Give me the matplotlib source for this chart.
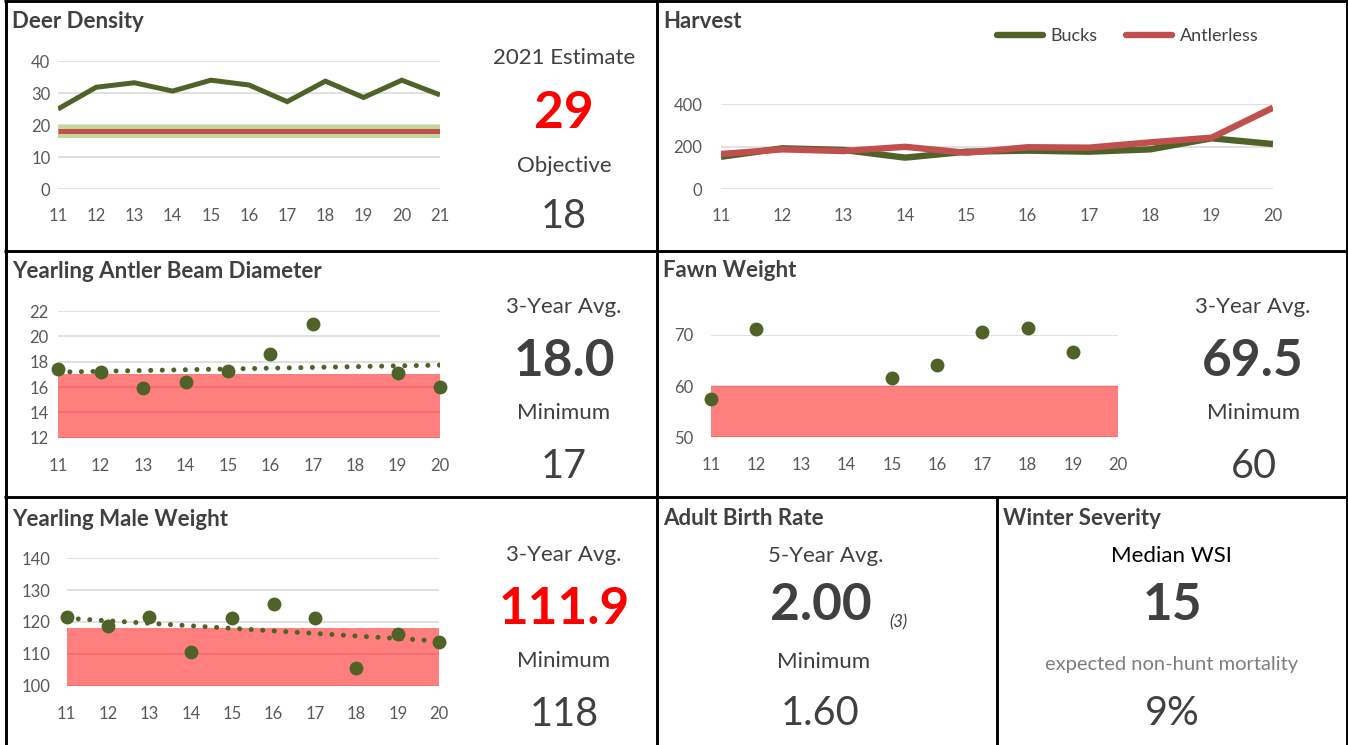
import numpy as np
import matplotlib
matplotlib.use("Agg")
import matplotlib.pyplot as plt

plt.rcParams['font.family'] = ['Lato', 'DejaVu Sans']

W, H = 1348, 745
nan = np.nan

# ---------------- data ----------------
density_years = [11, 12, 13, 14, 15, 16, 17, 18, 19, 20, 21]
density_values = [25.0, 31.8, 33.2, 30.6, 34.0, 32.5, 27.3, 33.7, 28.6, 34.0, 29.4]
density_objective = 18
density_band_low = 16
density_band_high = 20
density_ticks = [0, 10, 20, 30, 40]

harvest_years = [11, 12, 13, 14, 15, 16, 17, 18, 19, 20]
harvest_bucks = [153, 193, 185, 149, 177, 182, 177, 188, 240, 213]
harvest_antlerless = [166, 188, 180, 200, 172, 198, 196, 221, 243, 384]
harvest_ticks = [0, 200, 400]
harvest_labels = ["Bucks", "Antlerless"]

beam_years = [11, 12, 13, 14, 15, 16, 17, 18, 19, 20]
beam_values = [17.4, 17.2, 15.95, 16.4, 17.3, 18.6, 21.0, nan, 17.1, 16.0]
beam_minimum = 17
beam_floor = 12
beam_ticks = [12, 14, 16, 18, 20, 22]

fawn_years = [11, 12, 13, 14, 15, 16, 17, 18, 19, 20]
fawn_values = [57.4, 71.2, nan, nan, 61.6, 64.1, 70.5, 71.3, 66.7, nan]
fawn_minimum = 60
fawn_floor = 50
fawn_ticks = [50, 60, 70]

male_years = [11, 12, 13, 14, 15, 16, 17, 18, 19, 20]
male_values = [121.5, 118.8, 121.5, 110.7, 121.2, 125.5, 121.2, 105.7, 116.1, 113.8]
male_minimum = 118
male_floor = 100
male_ticks = [100, 110, 120, 130, 140]

density_estimate = "29"
density_objective_txt = "18"
beam_avg, beam_min_txt = "18.0", "17"
fawn_avg, fawn_min_txt = "69.5", "60"
male_avg, male_min_txt = "111.9", "118"
birth_avg, birth_n, birth_min = "2.00", "(3)", "1.60"
wsi_median, wsi_mortality = "15", "9%"

# ---------------- style ----------------
GREEN = '#4F6228'
RED = '#C0504D'
BAND_GREEN = '#C4D79B'
TXT = '#404040'
TICK = '#595959'
GRID = '#D9D9D9'

fig = plt.figure(figsize=(W / 100, H / 100), dpi=100)
bg = fig.add_axes([0, 0, 1, 1], zorder=0)
bg.set_xlim(0, W)
bg.set_ylim(H, 0)
bg.axis('off')


def ax_px(left, right, top, bottom, tsize):
    ax = fig.add_axes([left / W, 1 - bottom / H, (right - left) / W, (bottom - top) / H], zorder=2)
    ax.patch.set_alpha(0)
    for s in ax.spines.values():
        s.set_visible(False)
    ax.tick_params(length=0, labelsize=tsize, labelcolor=TICK)
    ax.yaxis.grid(True, color=GRID, lw=1.1, zorder=0)
    ax.set_axisbelow(True)
    return ax


# ---------------- borders ----------------
blw = 2.1
for (x0, x1, y0, y1) in [(4, W, 1.3, 1.3), (5.5, 5.5, 0, H), (W - 1.5, W - 1.5, 0, H),
                         (4, W, 251, 251), (4, W, 497, 497),
                         (657, 657, 0, H), (997, 997, 497, H)]:
    bg.plot([x0, x1], [y0, y1], color='black', lw=blw, solid_capstyle='butt')

# ---------------- titles ----------------
for x, y, t in [(12, 28, "Deer Density"), (663, 28, "Harvest"),
                (12, 278, "Yearling Antler Beam Diameter"), (663, 277, "Fawn Weight"),
                (12, 526, "Yearling Male Weight"), (663, 525, "Adult Birth Rate"),
                (1003, 525, "Winter Severity")]:
    bg.text(x, y, t, fontsize=16, fontweight='bold', color=TXT, ha='left', va='baseline')


def stat(x, y, s, size, color=TXT, weight='normal', style='normal'):
    bg.text(x, y, s, fontsize=size, color=color, fontweight=weight, fontstyle=style,
            ha='center', va='baseline')


LBL = 16
BIG = 37
REG = 28.5

# ---------------- Deer Density ----------------
ax = ax_px(58, 440, 61, 189, 12)
ax.fill_between(density_years, density_band_low, density_band_high, color=BAND_GREEN, lw=0, zorder=1)
ax.plot(density_years, [density_objective] * len(density_years), color=RED, lw=3.6, zorder=2,
        solid_capstyle='butt')
ax.plot(density_years, density_values, color=GREEN, lw=3.6, zorder=3, solid_joinstyle='miter',
        solid_capstyle='butt')
ax.set_xlim(11, 21)
ax.set_ylim(0, 40)
ax.set_yticks(density_ticks)
ax.set_xticks(density_years)
ax.tick_params(axis='y', pad=5.5)
ax.tick_params(axis='x', pad=13.5)

stat(564, 64, "2021 Estimate", LBL)
stat(564, 128, density_estimate, BIG, color='#FF0000', weight='bold')
stat(564, 172, "Objective", LBL)
stat(564, 228, density_objective_txt, REG)

# ---------------- Harvest ----------------
ax = ax_px(721, 1273, 104.3, 189.3, 12)
ax.plot(harvest_years, harvest_bucks, color=GREEN, lw=4.6, zorder=3, label=harvest_labels[0],
        solid_capstyle='butt')
ax.plot(harvest_years, harvest_antlerless, color=RED, lw=4.6, zorder=4, label=harvest_labels[1],
        solid_capstyle='butt')
ax.set_xlim(11, 20)
ax.set_ylim(0, 400)
ax.set_yticks(harvest_ticks)
ax.set_xticks(harvest_years)
ax.tick_params(axis='y', pad=13.5)
ax.tick_params(axis='x', pad=13.5)
leg = ax.legend(loc='center left', bbox_to_anchor=(997 / W, 1 - 36 / H), bbox_transform=fig.transFigure,
                ncol=2, frameon=False, fontsize=13, handlelength=2.55, handletextpad=0.4,
                columnspacing=1.6, borderpad=0, borderaxespad=0)
for t in leg.get_texts():
    t.set_color(TXT)
for l in leg.get_lines():
    l.set_solid_capstyle('round')


def scatter_panel(ax, years, values, floor, minimum, ticks, trend=False):
    years = np.asarray(years, dtype=float)
    values = np.asarray(values, dtype=float)
    ax.fill_between([years[0], years[-1]], floor, minimum, color='red', alpha=0.5, lw=0, zorder=1)
    ok = ~np.isnan(values)
    if trend:
        k, b = np.polyfit(years[ok], values[ok], 1)
        xs = np.array([years[0], years[-1]])
        ax.plot(xs, k * xs + b, color=GREEN, lw=3.6, linestyle=(0, (0.01, 2.3)),
                dash_capstyle='round', zorder=3)
    ax.plot(years[ok], values[ok], 'o', color=GREEN, ms=10, mec='none', zorder=5, clip_on=False)
    ax.set_xlim(years[0], years[-1])
    ax.set_ylim(ticks[0], ticks[-1])
    ax.set_yticks(ticks)
    ax.set_xticks(years)
    ax.set_xticklabels([str(int(y)) for y in years])
    ax.tick_params(axis='x', pad=14.5)


# ---------------- Yearling Antler Beam Diameter ----------------
ax = ax_px(58.3, 440, 311, 437.7, 12)
scatter_panel(ax, beam_years, beam_values, beam_floor, beam_minimum, beam_ticks, trend=True)
ax.tick_params(axis='y', pad=7)
stat(564, 313, "3-Year Avg.", LBL)
stat(564, 376, beam_avg, BIG, weight='bold')
stat(564, 419, "Minimum", LBL)
stat(564, 478, beam_min_txt, REG)

# ---------------- Fawn Weight ----------------
ax = ax_px(711, 1118, 335, 437.3, 12)
scatter_panel(ax, fawn_years, fawn_values, fawn_floor, fawn_minimum, fawn_ticks)
ax.tick_params(axis='y', pad=13)
stat(1253, 313, "3-Year Avg.", LBL)
stat(1253, 376, fawn_avg, BIG, weight='bold')
stat(1254, 419, "Minimum", LBL)
stat(1254, 478, fawn_min_txt, REG)

# ---------------- Yearling Male Weight ----------------
ax = ax_px(66.7, 439.3, 558.3, 685.7, 12)
scatter_panel(ax, male_years, male_values, male_floor, male_minimum, male_ticks, trend=True)
ax.tick_params(axis='y', pad=12)
stat(564, 561, "3-Year Avg.", LBL)
stat(564, 624, male_avg, BIG, color='#FF0000', weight='bold')
stat(564, 667, "Minimum", LBL)
stat(564, 726, male_min_txt, REG)

# ---------------- Adult Birth Rate ----------------
stat(826, 562, "5-Year Avg.", LBL)
stat(821, 620, birth_avg, BIG, weight='bold')
bg.text(898, 627, birth_n, fontsize=12, fontstyle='italic', color=TXT, ha='center', va='baseline')
stat(824, 668, "Minimum", LBL)
stat(820, 725, birth_min, REG)

# ---------------- Winter Severity ----------------
stat(1171, 562, "Median WSI", LBL, color='black')
stat(1172, 620, wsi_median, BIG, weight='bold')
stat(1172, 670, "expected non-hunt mortality", 14.5, color='#7F7F7F')
stat(1172, 725, wsi_mortality, REG)

fig.savefig("out.png", dpi=100)
